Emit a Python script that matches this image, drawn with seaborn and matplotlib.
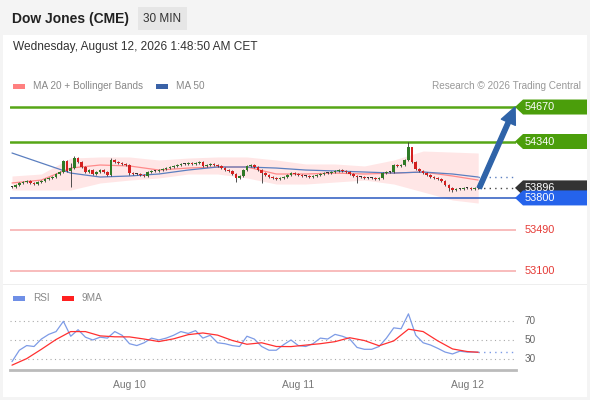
import matplotlib
matplotlib.use("Agg")
import matplotlib.pyplot as plt
import matplotlib.transforms as mtransforms
from matplotlib.patches import Polygon, Rectangle, FancyArrowPatch
import numpy as np
import seaborn as sns

# 30 min candles, closes (open = previous close)
closes = [53904, 53924, 53943, 53952, 53962, 53943, 53933, 53952, 53962, 53981,
          53991, 54000, 54029, 54048, 54153, 54058, 54086, 54182, 54144, 54096,
          54048, 54067, 54029, 54048, 54067, 54048, 54019, 54163, 54144, 54134,
          54125, 54115, 54038, 54029, 54029, 54019, 54010, 54048, 54058, 54058,
          54067, 54077, 54086, 54096, 54106, 54115, 54125, 54125, 54134, 54125,
          54134, 54144, 54106, 54115, 54125, 54115, 54106, 54086, 54067, 54058,
          54029, 53991, 54010, 54067, 54106, 54115, 54096, 54067, 54038, 54019,
          54000, 53991, 53981, 53991, 54000, 54019, 54038, 54029, 54019, 54010,
          54010, 54000, 54010, 54019, 54029, 54038, 54038, 54048, 54058, 54067,
          54058, 54048, 54029, 54010, 54000, 54000, 53991, 53991, 53991, 53981,
          53991, 54038, 54048, 54048, 54115, 54106, 54115, 54163, 54287, 54144,
          54077, 54058, 54038, 54019, 54000, 53991, 53981, 53962, 53924, 53895,
          53876, 53885, 53885, 53895, 53895, 53885, 53895, 53896]
spike_high = {16: 54134, 17: 54201, 27: 54182, 108: 54335, 109: 54287}
spike_low = {16: 53904, 32: 54019, 36: 54000, 61: 53952, 68: 53943,
             94: 53943, 119: 53866, 120: 53857}

# indicators sampled every 8 candles
ma_idx = [0, 8, 16, 24, 32, 40, 48, 56, 64, 72, 80, 88, 96, 104, 112, 120, 127]
ma20 = [53943, 53971, 54086, 54115, 54106, 54067, 54086, 54096, 54096,
        54029, 54029, 54038, 54029, 54038, 54048, 54010, 53971]
band_up = [54010, 54029, 54182, 54192, 54192, 54163, 54182, 54192, 54192,
           54163, 54125, 54125, 54106, 54163, 54249, 54239, 54230]
band_lo = [53876, 53876, 53876, 53943, 53971, 53991, 54029, 54029, 53991,
           53933, 53933, 53952, 53971, 53933, 53857, 53780, 53751]
ma50 = [54230, 54134, 54038, 54000, 54010, 54029, 54067, 54096, 54096,
        54086, 54067, 54058, 54048, 54038, 54048, 54029, 54000]

rsi_idx = list(range(0, 127, 2)) + [127]
rsi = [26.8, 39, 44, 43, 51, 56, 59, 70, 54, 61,
       53, 50, 53, 52, 59, 55, 46, 44, 47, 52,
       50, 52, 55, 59, 57, 60, 52, 55, 47, 46,
       44, 43, 54, 51, 43, 39, 39, 45, 50, 44,
       43, 46, 52, 51, 56, 54, 51, 42, 40, 40,
       43, 52, 63, 62, 78, 55, 47, 44.6, 41, 37,
       35, 38, 37, 37, 37]
rsi_ma_idx = list(range(0, 125, 4)) + [127]
rsi_ma = [23, 30, 40, 50.5, 59, 59, 54.4, 53.4, 53.3, 51,
          48.3, 51.2, 55.7, 57.5, 55.2, 49.5, 45.4, 47, 43, 42.9,
          44.5, 46, 48.2, 52.4, 49.4, 43.8, 49, 61.6, 59, 49,
          40.4, 37.6, 36.8]

day_ticks = [32, 78, 124]
day_labels = ["Aug 10", "Aug 11", "Aug 12"]

resist = [54670, 54340]
last_price = 53896
pivot = 53800
support = [53490, 53100]
target = 54670

W, H = 590, 400
sns.set_theme(style="white")
plt.rcParams['font.family'] = ['Liberation Sans', 'DejaVu Sans']

fig = plt.figure(figsize=(W / 100, H / 100), dpi=100, facecolor='#f4f4f4')


def fx(px):
    return px / W


def fy(py):
    return 1 - py / H


# panel backgrounds
fig.patches.append(Rectangle((fx(3), fy(397)), fx(584), 362 / H, transform=fig.transFigure,
                             facecolor='white', edgecolor='none', zorder=-3))
fig.patches.append(Rectangle((fx(3), fy(284.5)), fx(584), 1 / H, transform=fig.transFigure,
                             facecolor='#eeeeee', edgecolor='none', zorder=-2))
fig.patches.append(Rectangle((fx(138), fy(30)), fx(49), 23 / H, transform=fig.transFigure,
                             facecolor='#e6e6e6', edgecolor='none', zorder=-2))

fig.text(fx(12), fy(19), "Dow Jones (CME)", fontsize=10, fontweight='bold', color='#222222', va='center')
fig.text(fx(162.5), fy(19), "30 MIN", fontsize=8.5, color='#333333', va='center', ha='center')
fig.text(fx(13), fy(47), "Wednesday, August 12, 2026 1:48:50 AM CET", fontsize=8.6,
         color='#333333', va='center')


def legend_item(x, y, color, label):
    fig.patches.append(Rectangle((fx(x), fy(y + 2.5)), fx(12), 5 / H, transform=fig.transFigure,
                                 facecolor=color, edgecolor='none'))
    fig.text(fx(x + 20), fy(y), label, fontsize=7.2, color='#888888', va='center')


legend_item(13, 86, '#ff8080', "MA 20 + Bollinger Bands")
legend_item(156, 86, '#3a62a7', "MA 50")
fig.text(fx(581), fy(86), "Research \u00a9 2026 Trading Central", fontsize=7.2,
         color='#999999', va='center', ha='right')
legend_item(13, 298, '#6f8fe6', "RSI")
legend_item(62, 298, '#ff2020', "9MA")

# price panel
xlim = (-0.545, 137.3)
ylim = (52986, 54785)
ax = fig.add_axes([fx(10), fy(283), fx(506), 188 / H])
ax.set_xlim(*xlim)
ax.set_ylim(*ylim)
ax.axis('off')
ppp = (ylim[1] - ylim[0]) / 188.0

idx = np.arange(len(closes))
opens = [closes[0]] + closes[:-1]
highs = [spike_high.get(i, max(o, c) + 10) for i, (o, c) in enumerate(zip(opens, closes))]
lows = [spike_low.get(i, min(o, c) - 10) for i, (o, c) in enumerate(zip(opens, closes))]

ax.fill_between(ma_idx, band_lo, band_up, color='#ffdede', alpha=0.75, linewidth=0, zorder=1)
sns.lineplot(x=ma_idx, y=ma20, ax=ax, color='#ff8a8a', linewidth=0.9, zorder=2)
sns.lineplot(x=ma_idx, y=ma50, ax=ax, color='#5b7fc0', linewidth=0.9, zorder=2)

colors = []
for o, c in zip(opens, closes):
    if c > o:
        colors.append('#2f7a26')
    elif c < o:
        colors.append('#d42020')
    else:
        colors.append('#333333')
ax.vlines(idx, lows, highs, colors='#333333', linewidth=0.6, zorder=3)
body_lo = [min(o, c) for o, c in zip(opens, closes)]
body_h = [max(abs(c - o), 8) for o, c in zip(opens, closes)]
ax.bar(idx, body_h, bottom=body_lo, width=0.72, color=colors, linewidth=0, zorder=4)

for p in resist:
    ax.axhline(p, color='#56a617', linewidth=1.8, zorder=2)
ax.axhline(pivot, color='#2a58c0', linewidth=1.1, zorder=2)
for p in support:
    ax.axhline(p, color='#f7b0b0', linewidth=1.2, zorder=2)

x_end = (515 - 12) / 3.67
ax.hlines(last_price, idx[-1], x_end, colors='#444444', linewidth=1, linestyles=(0, (1, 3)))
ax.hlines(ma50[-1], idx[-1], x_end, colors='#5b7fc0', linewidth=1, linestyles=(0, (1, 3)))

arrow = FancyArrowPatch((idx[-1] + 0.3, last_price), (x_end, target),
                        arrowstyle='simple,head_width=0.55,head_length=0.6,tail_width=0.16',
                        mutation_scale=20, color='#2f63a8', shrinkA=0, shrinkB=0,
                        clip_on=False, zorder=6)
ax.add_patch(arrow)

tr = mtransforms.blended_transform_factory(fig.transFigure, ax.transData)
half = 7.5 * ppp


def price_tag(p, color):
    poly = Polygon([(fx(515), p), (fx(523), p + half), (fx(587), p + half),
                    (fx(587), p - half), (fx(523), p - half)], closed=True,
                   transform=tr, facecolor=color, edgecolor='none', clip_on=False, zorder=7)
    ax.add_patch(poly)
    ax.text(fx(525), p, str(p), transform=tr, fontsize=7.8, color='white',
            va='center', ha='left', clip_on=False, zorder=8)


for p in resist:
    price_tag(p, '#4b9e0b')
price_tag(last_price, '#333333')
price_tag(pivot, '#2563eb')
for p in support:
    ax.text(fx(525), p, str(p), transform=tr, fontsize=7.8, color='#e53935',
            va='center', ha='left', clip_on=False)

# RSI panel
ax2 = fig.add_axes([fx(10), fy(370), fx(506), 65 / H])
ax2.set_xlim(*xlim)
ax2.set_ylim(17.8, 87.5)
for s in ['top', 'left', 'right']:
    ax2.spines[s].set_visible(False)
ax2.spines['bottom'].set_color('#bbbbbb')
ax2.spines['bottom'].set_linewidth(2)
ax2.set_yticks([])
for g in [70, 50, 30]:
    ax2.axhline(g, color='#aaaaaa', linewidth=0.8, linestyle=(0, (1, 3)), zorder=1)
    ax2.text(fx(525), g, str(g), transform=mtransforms.blended_transform_factory(fig.transFigure, ax2.transData),
             fontsize=7.2, color='#666666', va='center', ha='left')

sns.lineplot(x=rsi_idx, y=rsi, ax=ax2, color='#7d9be6', linewidth=0.9, zorder=3)
sns.lineplot(x=rsi_ma_idx, y=rsi_ma, ax=ax2, color='#ff3030', linewidth=0.9, zorder=4)
ax2.hlines(rsi[-1], rsi_idx[-1], x_end, colors='#7d9be6', linewidth=1, linestyles=(0, (1, 3)))

ax2.set_xticks(day_ticks)
ax2.set_xticklabels(day_labels, fontsize=7.5, color='#777777')
ax2.set_xticks([xlim[0] + 0.2, xlim[1] - 0.2], minor=True)
ax2.tick_params(axis='x', which='major', length=0, pad=7)
ax2.tick_params(axis='x', which='minor', length=5, width=2, color='#bbbbbb', direction='out')
ax2.set_xlabel('')
ax2.set_ylabel('')
ax2.set_facecolor('none')

fig.savefig("out.png", dpi=100, facecolor=fig.get_facecolor())
